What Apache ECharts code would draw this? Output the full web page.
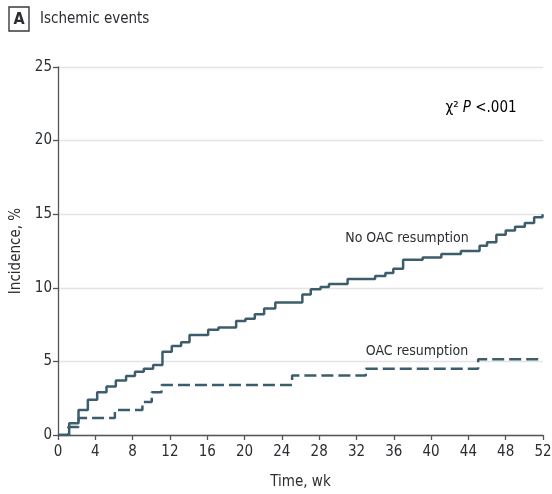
<!DOCTYPE html>
<html>
<head>
<meta charset="utf-8">
<script src="https://cdn.jsdelivr.net/npm/echarts@6/dist/echarts.min.js"></script>
<style>
  html, body { margin: 0; padding: 0; background: #fff; }
  #chart { width: 552px; height: 494px; }
</style>
</head>
<body>
<div id="chart"></div>
<script>
// Cumulative incidence of ischemic events (%), by week
const noOacWeeks = [0, 1.2, 2.2, 3.2, 4.2, 5.2, 6.2, 7.3, 8.25, 9.2, 10.2, 11.2, 12.2, 13.2, 14.1, 16.1, 17.2, 19.1, 20.1, 21.1, 22.1, 23.3, 26.2, 27.1, 28.15, 29.05, 31.05, 34.0, 35.1, 35.95, 37.0, 39.1, 41.1, 43.2, 45.2, 46.0, 47.0, 48.0, 49.0, 50.05, 51.05, 51.95, 52];
const noOacIncidence = [0, 0.8, 1.7, 2.4, 2.9, 3.3, 3.7, 4.0, 4.3, 4.5, 4.75, 5.65, 6.05, 6.3, 6.8, 7.15, 7.3, 7.75, 7.9, 8.2, 8.6, 9.0, 9.55, 9.9, 10.05, 10.25, 10.6, 10.8, 11.0, 11.3, 11.9, 12.05, 12.3, 12.5, 12.85, 13.1, 13.6, 13.9, 14.15, 14.4, 14.8, 15.0, 15.0];

const oacWeeks = [0, 1.1, 2.2, 6.1, 9.05, 10.05, 11.1, 25.1, 33.0, 45.05, 52];
const oacIncidence = [0, 0.55, 1.15, 1.7, 2.25, 2.9, 3.4, 4.05, 4.5, 5.15, 5.15];

const xTicks = { min: 0, max: 52, step: 4 };
const yTicks = { min: 0, max: 25, step: 5 };

const panelLetter = 'A';
const panelTitle = 'Ischemic events';
const xTitle = 'Time, wk';
const yTitle = 'Incidence, %';
const noOacLabel = 'No OAC resumption';
const oacLabel = 'OAC resumption';

const FONT = '"DejaVu Sans Condensed", "Liberation Sans Narrow", "Noto Sans", sans-serif';
const INK = '#2a2e33';
const LINE = '#3c5d6b';

const pairs = (xs, ys) => xs.map((x, i) => [x, ys[i]]);

const chart = echarts.init(document.getElementById('chart'), null, { renderer: 'canvas' });

chart.setOption({
  animation: false,
  backgroundColor: '#ffffff',
  textStyle: { fontFamily: FONT, color: INK },
  grid: { left: 58, right: 9, top: 67, bottom: 59, containLabel: false, outerBoundsMode: 'none' },
  xAxis: {
    type: 'value',
    min: xTicks.min, max: xTicks.max, interval: xTicks.step,
    name: xTitle, nameLocation: 'middle', nameGap: 40,
    nameTextStyle: { fontFamily: FONT, fontSize: 15, color: INK },
    axisLine: { show: true, onZero: false, lineStyle: { color: '#555', width: 1.3 } },
    axisTick: { show: true, length: 5, lineStyle: { color: '#555', width: 1.3 } },
    axisLabel: { margin: 10, fontFamily: FONT, fontSize: 15, color: INK },
    splitLine: { show: false }
  },
  yAxis: {
    type: 'value',
    min: yTicks.min, max: yTicks.max, interval: yTicks.step,
    name: yTitle, nameLocation: 'middle', nameGap: 27, nameRotate: 90,
    nameTextStyle: { fontFamily: FONT, fontSize: 15, color: INK },
    axisLine: { show: true, lineStyle: { color: '#555', width: 1.3 } },
    axisTick: { show: true, length: 5, lineStyle: { color: '#555', width: 1.3 } },
    axisLabel: { margin: 6, fontFamily: FONT, fontSize: 15, color: INK },
    splitLine: { show: true, lineStyle: { color: '#e4e4e4', width: 1.3 } }
  },
  series: [
    {
      name: noOacLabel,
      type: 'line',
      step: 'end',
      data: pairs(noOacWeeks, noOacIncidence),
      symbol: 'none',
      lineStyle: { color: LINE, width: 2.5 },
      z: 3
    },
    {
      name: oacLabel,
      type: 'line',
      step: 'end',
      data: pairs(oacWeeks, oacIncidence),
      symbol: 'none',
      lineStyle: { color: LINE, width: 2.5, type: [12, 5] },
      z: 2
    }
  ],
  graphic: [
    {
      type: 'rect', x: 9, y: 7,
      shape: { width: 20, height: 24 },
      style: { fill: '#fff', stroke: '#3a3a3a', lineWidth: 1.4 }
    },
    {
      type: 'text', x: 19, y: 19.5,
      style: { text: panelLetter, fontFamily: FONT, fontSize: 16, fontWeight: 'bold', fill: INK, align: 'center', verticalAlign: 'middle' }
    },
    {
      type: 'text', x: 40, y: 19,
      style: { text: panelTitle, fontFamily: FONT, fontSize: 15, fill: INK, align: 'left', verticalAlign: 'middle' }
    },
    {
      type: 'text', x: 407, y: 238,
      style: { text: noOacLabel, fontFamily: FONT, fontSize: 14, fill: INK, align: 'center', verticalAlign: 'middle' }
    },
    {
      type: 'text', x: 417, y: 351,
      style: { text: oacLabel, fontFamily: FONT, fontSize: 14, fill: INK, align: 'center', verticalAlign: 'middle' }
    },
    {
      type: 'text', x: 481, y: 108,
      style: {
        text: '{a|χ² }{b|P}{a| <.001}',
        align: 'center', verticalAlign: 'middle',
        rich: {
          a: { fontFamily: FONT, fontSize: 15, color: INK },
          b: { fontFamily: FONT, fontSize: 15, color: INK, fontStyle: 'italic' }
        }
      }
    }
  ]
});
</script>
</body>
</html>
